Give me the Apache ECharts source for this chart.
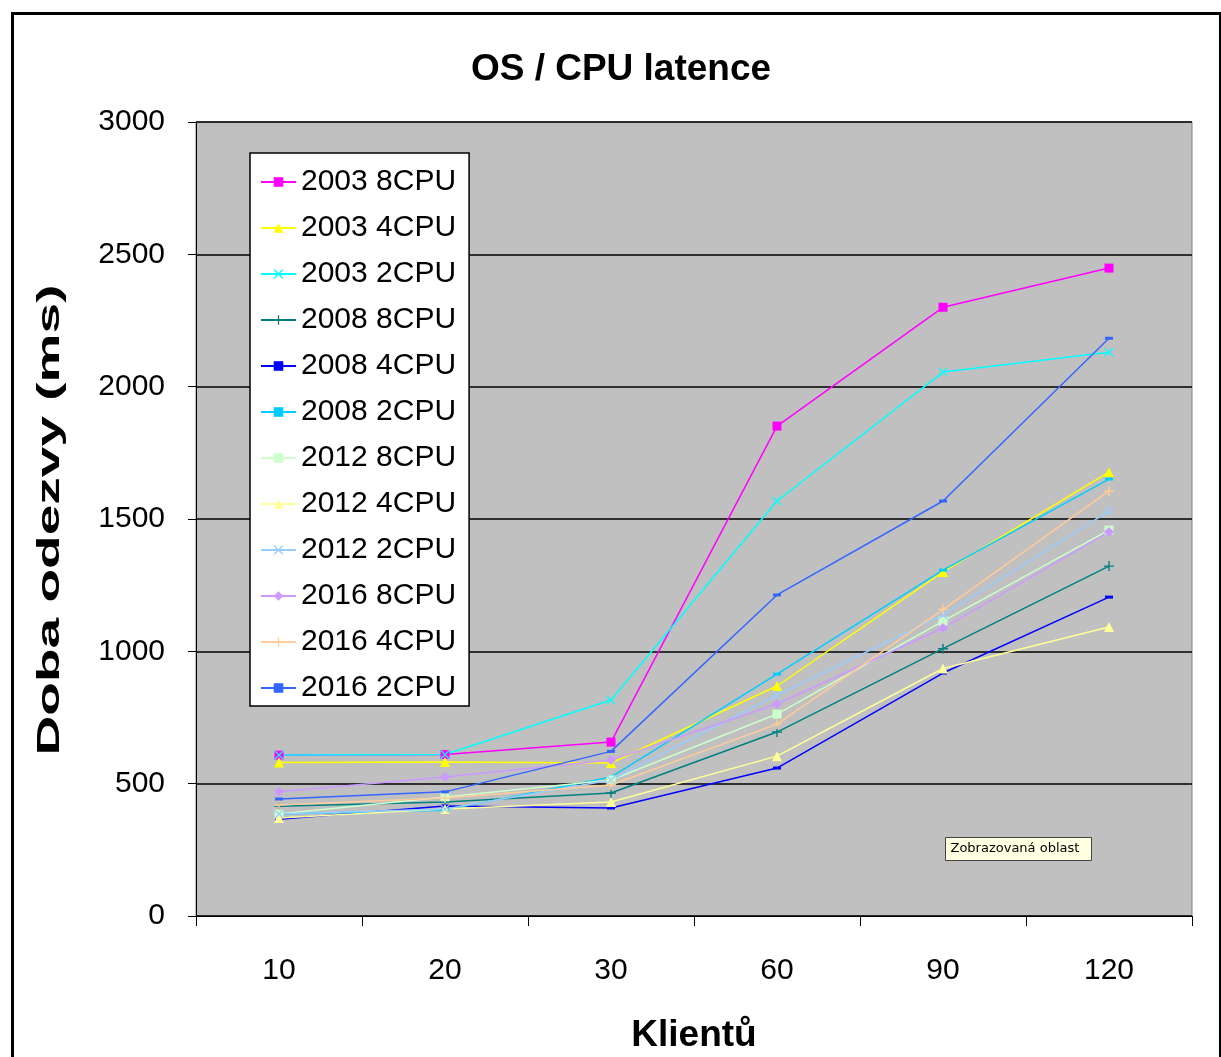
<!DOCTYPE html>
<html>
<head>
<meta charset="utf-8">
<script src="https://cdn.jsdelivr.net/npm/echarts@6/dist/echarts.min.js"></script>
<style>html,body{margin:0;padding:0;background:#fff}#c{width:1221px;height:1057px}</style>
</head>
<body>
<div id="c"></div>
<script>
var categories = ['10', '20', '30', '60', '90', '120'];
var seriesNames = ['2003 8CPU', '2003 4CPU', '2003 2CPU', '2008 8CPU', '2008 4CPU', '2008 2CPU',
                   '2012 8CPU', '2012 4CPU', '2012 2CPU', '2016 8CPU', '2016 4CPU', '2016 2CPU'];
var s2003_8 = [608, 610, 657, 1851, 2300, 2448];
var s2003_4 = [580, 582, 578, 869, 1300, 1677];
var s2003_2 = [608, 610, 816, 1568, 2055, 2130];
var s2008_8 = [415, 431, 465, 695, 1010, 1322];
var s2008_4 = [366, 416, 408, 559, 918, 1205];
var s2008_2 = [385, 400, 525, 914, 1307, 1651];
var s2012_8 = [385, 450, 514, 763, 1114, 1458];
var s2012_4 = [370, 404, 431, 604, 935, 1092];
var s2012_2 = [385, 404, 514, 835, 1137, 1530];
var s2016_8 = [469, 525, 589, 801, 1088, 1451];
var s2016_4 = [419, 446, 495, 725, 1158, 1606];
var s2016_2 = [442, 469, 622, 1213, 1568, 2183];
var yTicks = [0, 500, 1000, 1500, 2000, 2500, 3000];

var allData = [s2003_8, s2003_4, s2003_2, s2008_8, s2008_4, s2008_2,
               s2012_8, s2012_4, s2012_2, s2016_8, s2016_4, s2016_2];
var colors = ['#FF00FF', '#FFFF00', '#00FFFF', '#008080', '#0000FF', '#00CCFF',
              '#CCFFCC', '#FFFF99', '#99CCFF', '#CC99FF', '#FFCC99', '#3366FF'];
var X = 'path://M0,1L1,0L5,4L9,0L10,1L6,5L10,9L9,10L5,6L1,10L0,9L4,5Z';
var PLUS = 'path://M4.3,0H5.7V4.3H10V5.7H5.7V10H4.3V5.7H0V4.3H4.3Z';
var DASH = 'path://M0,0H8V3H0Z';
var symbols = ['rect', 'triangle', X, PLUS, DASH, DASH, 'rect', 'triangle', X, 'diamond', PLUS, DASH];
var sizes = [9, 10, 9, 10, [8, 3], [8, 3], 9, 10, 9, 10, 10, [8, 3]];

var FONT = "'Liberation Sans', Arial, sans-serif";

var series = allData.map(function (d, i) {
  return {
    name: seriesNames[i],
    type: 'line',
    data: d,
    symbol: symbols[i],
    symbolSize: sizes[i],
    showAllSymbol: true,
    lineStyle: { color: colors[i], width: 1.5 },
    itemStyle: { color: colors[i] },
    emphasis: { disabled: true }
  };
});

var chart = echarts.init(document.getElementById('c'));
chart.setOption({
  animation: false,
  backgroundColor: '#fff',
  textStyle: { fontFamily: FONT },
  title: {
    text: 'OS / CPU latence',
    left: 616, top: 46, textAlign: 'center',
    textStyle: { fontSize: 37, fontWeight: 'bold', color: '#000', fontFamily: FONT }
  },
  grid: {
    left: 196, top: 122, right: 29, bottom: 141,
    outerBoundsMode: 'none', containLabel: false,
    show: true, backgroundColor: '#C0C0C0', borderColor: '#808080', borderWidth: 1
  },
  legend: {
    orient: 'vertical', left: 250, top: 153,
    backgroundColor: '#fff', borderColor: '#000', borderWidth: 1.5,
    padding: [14, 13, 3, 10],
    itemGap: 16, itemWidth: 35, itemHeight: 12, itemTextGap: 14,
    textStyle: { fontSize: 30, color: '#000', fontFamily: FONT, lineHeight: 30 },
    data: seriesNames
  },
  xAxis: {
    type: 'category', data: categories, boundaryGap: true,
    axisLine: { lineStyle: { color: '#000', width: 1 } },
    axisTick: { show: true, length: 10, inside: false, lineStyle: { color: '#000' } },
    axisLabel: { fontSize: 30, color: '#000', margin: 40, fontFamily: FONT },
    name: 'Klientů', nameLocation: 'middle', nameGap: 101,
    nameTextStyle: { fontSize: 37, fontWeight: 'bold', color: '#000', fontFamily: FONT, verticalAlign: 'top' }
  },
  yAxis: {
    type: 'value', min: yTicks[0], max: yTicks[yTicks.length - 1], interval: 500,
    axisLine: { show: true, lineStyle: { color: '#000', width: 1 } },
    axisTick: { show: true, length: 8, lineStyle: { color: '#000' } },
    axisLabel: { fontSize: 30, color: '#000', margin: 31, fontFamily: FONT,
                 formatter: function (v) { return String(v); } },
    splitLine: { show: true, lineStyle: { color: '#000', width: 1.5 } }
  },
  graphic: [
    { type: 'rect', left: 10, top: 11, shape: { width: 1208, height: 1070 },
      style: { fill: 'none', stroke: '#000', lineWidth: 3 }, silent: true },
    { type: 'text', x: 50, y: 520, rotation: Math.PI / 2, scaleX: 1.72, scaleY: 1,
      style: { text: 'Doba odezvy (ms)', fontSize: 32, fontWeight: 'bold', fill: '#000',
               fontFamily: FONT, align: 'center', verticalAlign: 'middle' } },
    { type: 'group', left: 945, top: 837, children: [
      { type: 'rect', shape: { x: 0, y: 0, width: 146, height: 23 },
        style: { fill: '#FFFFE1', stroke: '#444', lineWidth: 1 } },
      { type: 'text', left: 5, top: 5,
        style: { text: 'Zobrazovaná oblast', fontSize: 13, fill: '#000', fontFamily: "'DejaVu Sans', Tahoma, sans-serif" } }
    ]}
  ],
  series: series
});
</script>
</body>
</html>
